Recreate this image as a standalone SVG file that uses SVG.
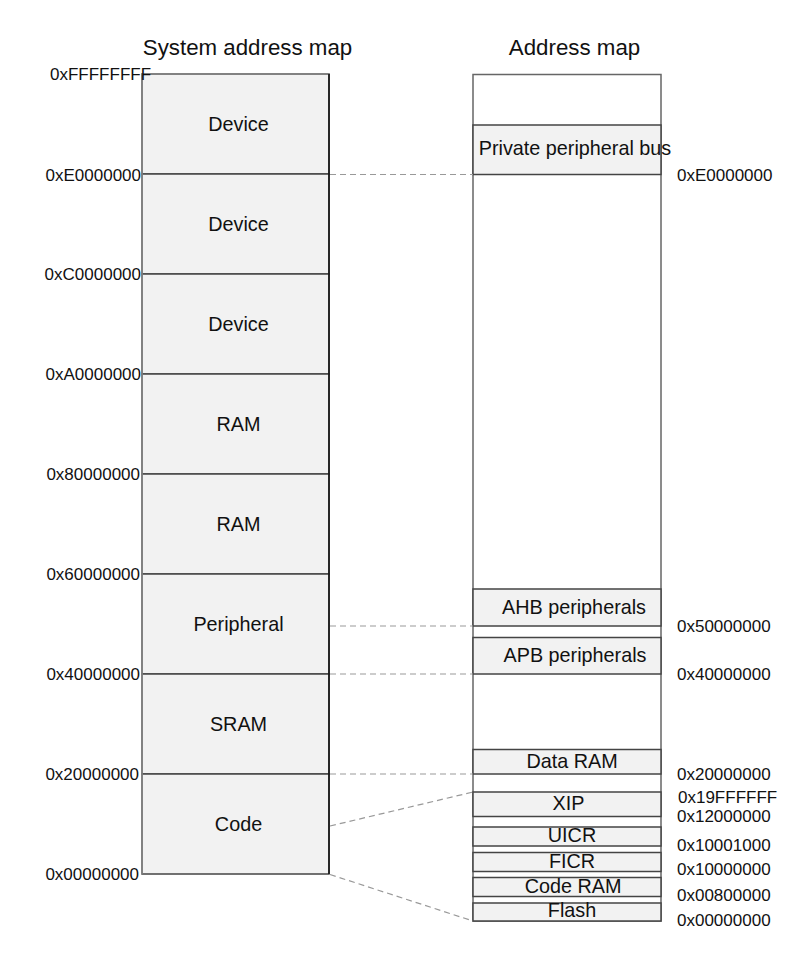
<svg xmlns="http://www.w3.org/2000/svg" width="808" height="955" viewBox="0 0 808 955">
<style>
.seg{fill:#f2f2f2;stroke:#444;stroke-width:1.5}
.outer{fill:#fff;stroke:#666;stroke-width:1.5}
.t{font-family:"Liberation Sans",Arial,sans-serif;font-size:19.8px;fill:#111;text-anchor:middle}
.lab{font-family:"Liberation Sans",Arial,sans-serif;font-size:17px;fill:#111}
.title{font-family:"Liberation Sans",Arial,sans-serif;font-size:22.3px;fill:#111;text-anchor:middle}
.conn{stroke:#999;stroke-width:1.2;stroke-dasharray:6,4;fill:none}
</style>
<rect width="808" height="955" fill="#fff"/>
<text class="title" x="247.5" y="55">System address map</text>
<text class="title" x="574.5" y="55">Address map</text>

<g id="system-map">
  <g id="s-device1"><rect class="seg" x="142" y="74" width="187" height="100"/><text class="t" x="238.5" y="131">Device</text></g>
  <g id="s-device2"><rect class="seg" x="142" y="174" width="187" height="100"/><text class="t" x="238.5" y="231">Device</text></g>
  <g id="s-device3"><rect class="seg" x="142" y="274" width="187" height="100"/><text class="t" x="238.5" y="331">Device</text></g>
  <g id="s-ram1"><rect class="seg" x="142" y="374" width="187" height="100"/><text class="t" x="238.5" y="431">RAM</text></g>
  <g id="s-ram2"><rect class="seg" x="142" y="474" width="187" height="100"/><text class="t" x="238.5" y="531">RAM</text></g>
  <g id="s-peripheral"><rect class="seg" x="142" y="574" width="187" height="100"/><text class="t" x="238.5" y="631">Peripheral</text></g>
  <g id="s-sram"><rect class="seg" x="142" y="674" width="187" height="100"/><text class="t" x="238.5" y="731">SRAM</text></g>
  <g id="s-code"><rect class="seg" x="142" y="774" width="187" height="100"/><text class="t" x="238.5" y="831">Code</text></g>
  <line x1="142" y1="74" x2="142" y2="874" stroke="#888" stroke-width="1.5"/>
  <line x1="142" y1="74" x2="329" y2="74" stroke="#888" stroke-width="1.5"/>
  <line x1="329" y1="74" x2="329" y2="874" stroke="#111" stroke-width="1.5"/>
</g>

<g id="system-labels">
  <text class="lab" x="50" y="80">0xFFFFFFFF</text>
  <text class="lab" x="141" y="180.5" text-anchor="end">0xE0000000</text>
  <text class="lab" x="141" y="280" text-anchor="end">0xC0000000</text>
  <text class="lab" x="141" y="380" text-anchor="end">0xA0000000</text>
  <text class="lab" x="140" y="480" text-anchor="end">0x80000000</text>
  <text class="lab" x="140" y="580" text-anchor="end">0x60000000</text>
  <text class="lab" x="140" y="680" text-anchor="end">0x40000000</text>
  <text class="lab" x="139" y="779.5" text-anchor="end">0x20000000</text>
  <text class="lab" x="139" y="879.5" text-anchor="end">0x00000000</text>
</g>

<g id="address-map">
  <rect class="outer" x="473" y="74.5" width="188" height="846.5"/>
  <g id="a-ppb"><rect class="seg" x="473" y="125" width="188" height="49.5"/><text class="t" x="575" y="155">Private peripheral bus</text></g>
  <g id="a-ahb"><rect class="seg" x="473" y="589" width="188" height="37"/><text class="t" x="574" y="613.5">AHB peripherals</text></g>
  <g id="a-apb"><rect class="seg" x="473" y="637.5" width="188" height="36.5"/><text class="t" x="575" y="661.5">APB peripherals</text></g>
  <g id="a-dataram"><rect class="seg" x="473" y="749.5" width="188" height="24.5"/><text class="t" x="572" y="767.5">Data RAM</text></g>
  <g id="a-xip"><rect class="seg" x="473" y="792" width="188" height="24.5"/><text class="t" x="568.5" y="810">XIP</text></g>
  <g id="a-uicr"><rect class="seg" x="473" y="827" width="188" height="19"/><text class="t" x="572" y="841.5">UICR</text></g>
  <g id="a-ficr"><rect class="seg" x="473" y="852.5" width="188" height="19"/><text class="t" x="572" y="867.5">FICR</text></g>
  <g id="a-coderam"><rect class="seg" x="473" y="877.5" width="188" height="19"/><text class="t" x="573" y="892.5">Code RAM</text></g>
  <g id="a-flash"><rect class="seg" x="473" y="903" width="188" height="18"/><text class="t" x="572" y="916.5">Flash</text></g>
</g>

<g id="address-labels">
  <text class="lab" x="677" y="181">0xE0000000</text>
  <text class="lab" x="677" y="631.5">0x50000000</text>
  <text class="lab" x="677" y="679.5">0x40000000</text>
  <text class="lab" x="677" y="779.5">0x20000000</text>
  <text class="lab" x="678" y="803">0x19FFFFFF</text>
  <text class="lab" x="677" y="822">0x12000000</text>
  <text class="lab" x="677" y="851">0x10001000</text>
  <text class="lab" x="677" y="875">0x10000000</text>
  <text class="lab" x="677" y="901">0x00800000</text>
  <text class="lab" x="677" y="926">0x00000000</text>
</g>

<g id="connectors">
  <line class="conn" x1="330" y1="174.5" x2="473" y2="174.5"/>
  <line class="conn" x1="330" y1="626" x2="473" y2="626"/>
  <line class="conn" x1="330" y1="674" x2="473" y2="674"/>
  <line class="conn" x1="330" y1="774" x2="473" y2="774"/>
  <line class="conn" x1="330" y1="826" x2="473" y2="792"/>
  <line class="conn" x1="330" y1="874.5" x2="473" y2="921"/>
</g>
</svg>
